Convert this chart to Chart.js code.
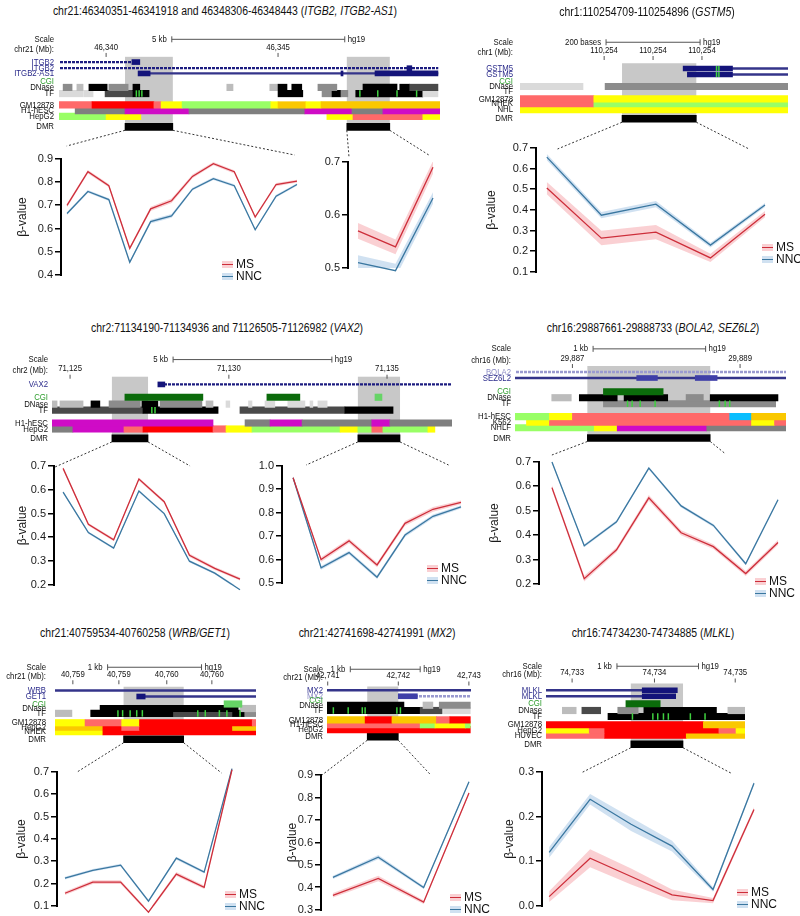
<!DOCTYPE html>
<html>
<head>
<meta charset="utf-8">
<script src="https://cdn.jsdelivr.net/npm/chart.js@4.4.1/dist/chart.umd.min.js"></script>
<style>
  body { margin: 0; background: #fff; }
  #fig { position: relative; width: 800px; height: 916px; overflow: hidden; font-family: "Liberation Sans", Arial, sans-serif; color: #111; }
  #fig canvas { position: absolute; }
  .title { position: absolute; width: 600px; text-align: center; font-size: 12px; white-space: nowrap; transform: scaleX(0.87); pointer-events: none; }
  .legend { position: absolute; font-size: 12px; }
  .legend .row { height: 12px; line-height: 12px; display: flex; align-items: center; }
  .legend .sw { position: relative; display: inline-block; width: 11px; height: 7px; margin-right: 3px; }
  .legend .sw i { position: absolute; left: 0; right: 0; top: 3px; height: 1.5px; }
</style>
</head>
<body>
<div id="fig"></div>
<script>
/**
 * Données lues sur la figure
 * positions des pistes : kb depuis le bord gauche de la fenêtre (GSTM5 : pb)
 */

// ---- ITGB2 / ITGB2-AS1 ----
const itgb2AxisPos = [1.37, 6.37];
const itgb2AxisLabels = ["46,340", "46,345"];
const itgb2ScaleBar = [3.28, 8.31];
const itgb2Dmr = [[1.92, 3.31], [8.37, 9.62]];
const itgb2Gene1 = [[0, 2.12, "p"], [2.12, 2.35, "N"]];
const itgb2Gene2 = [[0, 11.02, "p"], [10.12, 10.26, "N"]];
const itgb2As1 = [[2.65, 11.02, "n"], [2.30, 2.65, "N"], [8.20, 8.26, "N"], [9.19, 11.02, "N"]];
const itgb2Dnase = [[0.12, 0.38, "g"], [0.52, 0.70, "l"], [0.87, 1.40, "k"], [1.45, 2.01, "g"], [2.15, 2.35, "k"], [4.88, 5.06, "l"], [6.13, 6.37, "l"], [6.37, 6.63, "k"], [6.77, 7.06, "k"], [7.53, 8.08, "g"], [8.84, 9.83, "k"], [9.91, 10.20, "k"], [10.20, 11.02, "d"]];
const itgb2Tf = [[0, 0.70, "w"], [0.72, 0.99, "w"], [1.34, 2.15, "d"], [2.15, 2.62, "k"], [6.37, 7.09, "k"], [7.65, 7.94, "g"], [7.94, 8.20, "k"], [8.20, 8.40, "g"], [8.63, 10.58, "k"], [10.58, 11.02, "w"]];
const itgb2TfMarks = [2.25, 2.33, 2.41, 8.75, 9.27, 9.83, 10.4];
const itgb2Gm = [[0, 0.96, "S"], [0.96, 2.76, "R"], [2.76, 2.97, "S"], [2.97, 3.58, "Y"], [3.58, 6.16, "G"], [6.16, 6.37, "Y"], [6.37, 7.18, "O"], [7.18, 7.62, "Y"], [7.62, 11.08, "O"]];
const itgb2H1 = [[0.47, 1.92, "A"], [1.92, 3.78, "M"], [3.78, 7.15, "A"], [7.15, 8.52, "M"], [8.52, 9.42, "A"], [9.42, 11.08, "M"]];
const itgb2Hepg2 = [[0, 1.37, "G"], [1.37, 2.38, "Y"], [7.79, 8.55, "Y"], [8.55, 10.58, "S"], [10.58, 11.08, "Y"]];

const itgb2aTicks = [0.4, 0.5, 0.6, 0.7, 0.8, 0.9];
const itgb2aMs = [0.70, 0.845, 0.785, 0.515, 0.685, 0.72, 0.825, 0.88, 0.845, 0.65, 0.79, 0.805];
const itgb2aNnc = [0.665, 0.76, 0.725, 0.455, 0.63, 0.655, 0.77, 0.815, 0.785, 0.595, 0.74, 0.79];
const itgb2aMsErr = [0.008, 0.008, 0.007, 0.007, 0.009, 0.010, 0.008, 0.007, 0.007, 0.007, 0.007, 0.006];
const itgb2aNncErr = [0.006, 0.006, 0.006, 0.005, 0.008, 0.008, 0.006, 0.006, 0.006, 0.005, 0.006, 0.005];
const itgb2bTicks = [0.5, 0.6, 0.7];
const itgb2bMs = [0.57, 0.54, 0.69];
const itgb2bNnc = [0.51, 0.495, 0.632];
const itgb2bMsErr = [0.015, 0.014, 0.012];
const itgb2bNncErr = [0.014, 0.013, 0.011];

// ---- GSTM5 (pb) ----
const gstm5AxisPos = [179, 283, 387];
const gstm5AxisLabels = ["110,254", "110,254", "110,254"];
const gstm5ScaleBar = [183, 383];
const gstm5Dmr = [[217, 375]];
const gstm5Gene1 = [[452, 570, "n"], [347, 452, "N"]];
const gstm5Gene2 = [[452, 570, "n"], [356, 452, "N"]];
const gstm5ExonMarks = [418, 423];
const gstm5Dnase = [[0, 134, "w"], [181, 570, "g"]];
const gstm5Gm = [[0, 157, "S"], [157, 570, "Y"]];
const gstm5Nhek = [[0, 157, "S"], [157, 570, "G"]];
const gstm5Nhl = [[0, 570, "Y"]];

const gstm5YTicks = [0.1, 0.2, 0.3, 0.4, 0.5, 0.6, 0.7];
const gstm5Ms = [0.506, 0.264, 0.293, 0.168, 0.38];
const gstm5Nnc = [0.656, 0.375, 0.428, 0.23, 0.424];
const gstm5MsErr = [0.03, 0.035, 0.035, 0.02, 0.015];
const gstm5NncErr = [0.015, 0.015, 0.015, 0.012, 0.01];

// ---- VAX2 ----
const vax2AxisPos = [0.57, 5.58, 10.57];
const vax2AxisLabels = ["71,125", "71,130", "71,135"];
const vax2ScaleBar = [3.82, 8.83];
const vax2Dmr = [[1.89, 3.03], [9.65, 10.98]];
const vax2Gene = [[3.56, 12.62, "p"], [3.34, 3.56, "N"]];
const vax2Cgi = [[2.30, 4.76, "C"], [6.78, 7.82, "C"], [10.19, 10.41, "c"]];
const vax2Dnase = [[0, 0.16, "l"], [0.25, 0.98, "l"], [1.23, 1.51, "k"], [1.80, 2.78, "g"], [2.84, 3.34, "k"], [3.41, 4.73, "g"], [4.86, 5.08, "l"], [5.49, 5.61, "w"], [6.20, 6.31, "w"], [6.72, 7.03, "w"], [7.44, 7.98, "w"], [8.14, 8.23, "w"], [8.39, 8.68, "w"]];
const vax2Tf = [[0, 2.87, "d"], [2.87, 5.24, "k"], [5.93, 9.24, "d"], [9.24, 10.76, "k"]];
const vax2TfMarks = [3.15, 3.25];
const vax2H1 = [[0, 5.08, "M"], [6.09, 6.88, "A"], [6.88, 7.89, "M"], [7.89, 10.09, "A"], [10.09, 10.66, "M"], [10.66, 12.62, "A"]];
const vax2Hepg2 = [[0, 0.66, "A"], [0.66, 2.27, "M"], [2.27, 2.87, "S"], [2.87, 5.08, "R"], [5.08, 5.49, "S"], [5.49, 6.31, "Y"], [6.31, 9.09, "G"], [9.09, 9.65, "Y"], [9.65, 10.09, "G"], [10.09, 10.44, "S"], [10.44, 11.86, "G"], [11.86, 12.08, "Y"]];

const vax2aTicks = [0.2, 0.3, 0.4, 0.5, 0.6, 0.7];
const vax2aMs = [0.69, 0.455, 0.39, 0.645, 0.55, 0.325, 0.27, 0.225];
const vax2aNnc = [0.59, 0.42, 0.355, 0.595, 0.50, 0.30, 0.25, 0.18];
const vax2aMsErr = [0.006, 0.006, 0.006, 0.007, 0.006, 0.007, 0.007, 0.006];
const vax2aNncErr = [0.005, 0.005, 0.005, 0.005, 0.005, 0.005, 0.005, 0.005];
const vax2bTicks = [0.5, 0.6, 0.7, 0.8, 0.9, 1.0];
const vax2bMs = [0.95, 0.60, 0.68, 0.577, 0.755, 0.815, 0.845];
const vax2bNnc = [0.95, 0.565, 0.63, 0.525, 0.705, 0.785, 0.825];
const vax2bMsErr = [0.006, 0.010, 0.010, 0.010, 0.010, 0.010, 0.008];
const vax2bNncErr = [0.005, 0.008, 0.008, 0.008, 0.008, 0.008, 0.007];

// ---- BOLA2 / SEZ6L2 ----
const bola2AxisPos = [0.50, 1.96];
const bola2AxisLabels = ["29,887", "29,889"];
const bola2ScaleBar = [0.68, 1.66];
const bola2Dmr = [[0.63, 1.70]];
const bola2Gene = [[0, 2.36, "q"]];
const sez6l2Gene = [[0, 2.36, "n"], [1.06, 1.24, "L"], [1.57, 1.76, "L"]];
const bola2Cgi = [[0.77, 1.29, "C"]];
const bola2Dnase = [[0.32, 0.49, "l"], [0.56, 0.89, "k"], [0.95, 1.33, "k"], [1.49, 1.64, "g"], [1.70, 2.29, "k"]];
const bola2Tf = [[0.77, 2.27, "g"]];
const bola2TfMarks = [0.98, 1.02, 1.09, 1.22, 1.78, 1.83, 1.87];
const bola2H1 = [[0, 0.30, "G"], [0.30, 0.50, "Y"], [0.50, 1.87, "S"], [1.87, 2.06, "B"], [2.06, 2.36, "O"]];
const bola2K562 = [[0.10, 0.30, "Y"], [0.30, 2.06, "S"], [2.06, 2.26, "Y"], [2.26, 2.36, "S"]];
const bola2Nhlf = [[0, 0.69, "G"], [0.69, 0.89, "Y"], [0.89, 1.67, "M"], [1.67, 2.36, "A"]];

const bola2YTicks = [0.2, 0.3, 0.4, 0.5, 0.6, 0.7];
const bola2Ms = [0.595, 0.222, 0.34, 0.553, 0.41, 0.353, 0.243, 0.37];
const bola2Nnc = [0.70, 0.357, 0.455, 0.675, 0.52, 0.44, 0.283, 0.545];
const bola2MsErr = [0.01, 0.012, 0.01, 0.012, 0.01, 0.01, 0.01, 0.01];
const bola2NncErr = [0.005, 0.006, 0.006, 0.006, 0.006, 0.006, 0.006, 0.005];

// ---- WRB / GET1 ----
const wrbAxisPos = [0.19, 0.68, 1.19, 1.67];
const wrbAxisLabels = ["40,759", "40,759", "40,760", "40,760"];
const wrbScaleBar = [0.56, 1.56];
const wrbDmr = [[0.73, 1.37]];
const wrbGene = [[0, 2.14, "n"]];
const get1Gene = [[0.96, 2.14, "n"], [0.87, 0.96, "N"]];
const wrbCgi = [[1.80, 1.99, "c"]];
const wrbDnase = [[0.48, 1.95, "k"], [1.97, 2.14, "l"]];
const wrbTf = [[0, 0.18, "l"], [0.38, 1.26, "k"], [1.27, 1.89, "d"], [1.89, 2.02, "k"], [2.02, 2.14, "g"]];
const wrbTfMarks = [0.67, 0.72, 0.80, 0.87, 0.93, 1.52, 1.60, 1.75, 1.83, 1.97];
const wrbGm = [[0, 0.32, "Y"], [0.32, 0.71, "S"], [0.71, 0.90, "Y"], [0.90, 2.10, "R"], [2.10, 2.14, "S"]];
const wrbHepg2 = [[0, 0.51, "O"], [0.51, 0.71, "R"], [0.71, 0.90, "S"], [0.90, 1.89, "R"], [1.89, 2.14, "O"]];
const wrbNhek = [[0, 0.51, "Y"], [0.51, 2.14, "R"]];

const wrbYTicks = [0.1, 0.2, 0.3, 0.4, 0.5, 0.6, 0.7];
const wrbMs = [0.157, 0.207, 0.207, 0.072, 0.243, 0.184, 0.71];
const wrbNnc = [0.225, 0.26, 0.283, 0.122, 0.314, 0.252, 0.715];
const wrbMsErr = [0.008, 0.008, 0.008, 0.007, 0.009, 0.008, 0.006];
const wrbNncErr = [0.006, 0.006, 0.006, 0.006, 0.007, 0.006, 0.005];

// ---- MX2 ----
const mx2AxisPos = [0.01, 1.01, 2.01];
const mx2AxisLabels = ["42,741", "42,742", "42,743"];
const mx2ScaleBar = [0.33, 1.32];
const mx2Dmr = [[0.57, 1.01]];
const mx2Gene1 = [[0, 2.04, "n"]];
const mx2Gene2 = [[1.28, 2.04, "q"], [1.01, 1.28, "L"]];
const mx2Dnase = [[0, 1.09, "k"], [1.36, 1.50, "l"], [1.59, 2.03, "g"]];
const mx2Tf = [[0, 1.32, "k"], [1.32, 1.63, "d"], [1.65, 2.03, "w"]];
const mx2TfMarks = [0.09, 0.30, 0.50, 0.54, 0.99, 1.04];
const mx2Gm = [[0, 0.54, "O"], [0.54, 0.92, "R"], [0.92, 1.55, "O"], [1.55, 1.74, "S"], [1.74, 2.03, "R"]];
const mx2H1 = [[0, 1.32, "S"], [1.32, 1.53, "G"], [1.53, 1.96, "Y"], [1.96, 2.03, "G"]];
const mx2Hepg2 = [[0, 2.03, "R"]];

const mx2YTicks = [0.3, 0.4, 0.5, 0.6, 0.7, 0.8, 0.9];
const mx2Ms = [0.365, 0.44, 0.335, 0.82];
const mx2Nnc = [0.445, 0.535, 0.40, 0.87];
const mx2MsErr = [0.01, 0.012, 0.008, 0.006];
const mx2NncErr = [0.007, 0.009, 0.007, 0.005];

// ---- MLKL ----
const mlklAxisPos = [0.32, 1.33, 2.32];
const mlklAxisLabels = ["74,733", "74,734", "74,735"];
const mlklScaleBar = [0.87, 1.87];
const mlklDmr = [[1.04, 1.68]];
const mlklGene1 = [[0, 1.18, "n"], [1.18, 1.61, "N"]];
const mlklGene2 = [[0, 1.18, "n"], [1.18, 1.59, "N"]];
const mlklCgi = [[0.98, 1.40, "C"]];
const mlklDnase = [[0.20, 0.37, "l"], [0.44, 0.67, "d"], [0.88, 1.13, "g"], [1.20, 2.09, "k"], [2.23, 2.44, "l"]];
const mlklTf = [[0.76, 2.44, "k"]];
const mlklTfMarks = [1.06, 1.31, 1.37, 1.44, 1.50, 1.77, 1.95];
const mlklGm = [[0, 1.93, "R"], [1.93, 2.44, "O"]];
const mlklHepg2 = [[0, 0.53, "Y"], [0.53, 0.72, "S"], [0.72, 2.12, "R"], [2.12, 2.33, "S"], [2.33, 2.44, "Y"]];
const mlklHuvec = [[0, 0.72, "S"], [0.72, 1.72, "R"], [1.72, 2.44, "O"]];

const mlklYTicks = [0.0, 0.1, 0.2, 0.3];
const mlklMs = [0.021, 0.107, 0.066, 0.025, 0.012, 0.216];
const mlklNnc = [0.12, 0.239, 0.183, 0.134, 0.037, 0.275];
const mlklMsErr = [0.012, 0.02, 0.018, 0.012, 0.006, 0.005];
const mlklNncErr = [0.012, 0.012, 0.015, 0.012, 0.005, 0.004];

// couleurs
const FONT = '"Liberation Sans", Arial, sans-serif';
const PAL = {
  N: "#14147a", L: "#3f3fa8", n: "#34348a",
  k: "#000000", d: "#4a4a4a", g: "#8c8c8c", l: "#bcbcbc", w: "#dadada",
  C: "#0b6b0b", c: "#66d466",
  R: "#ff0000", S: "#ff6969", M: "#cf0bc6", O: "#fac800", Y: "#ffff04", G: "#99ff66", A: "#7f7f7f", B: "#0abefe",
};
const NAVY = "#2a2a8a", LIGHTNAVY = "#8a8ac4", GREEN = "#2f9e2f";
const MS_LINE = "#cd2e3a", MS_BAND = "rgba(240,120,128,0.35)";
const NNC_LINE = "#3a77a0", NNC_BAND = "rgba(120,170,215,0.35)";
const INK = "#000000";

// mise en page des 7 panneaux
const panels = [
  {
    title: "chr21:46340351-46341918 and 46348306-46348443 (<i>ITGB2, ITGB2-AS1</i>)", titleX: 225, titleY: 11,
    box: [0, 18, 445, 145], win: [59, 440], span: 11.08, labelRight: 54,
    scale: { y: 32, text: "5 kb", bar: itgb2ScaleBar },
    chr: { y: 43, label: "chr21 (Mb):", pos: itgb2AxisPos, labels: itgb2AxisLabels },
    shade: [52, 133], dmr: { y: 132, ranges: itgb2Dmr },
    rows: [
      { name: "ITGB2", y: 58, c: NAVY, segs: itgb2Gene1, h: 5 },
      { name: "ITGB2", y: 65, c: NAVY, segs: itgb2Gene2, h: 5 },
      { name: "ITGB2-AS1", y: 71, c: NAVY, segs: itgb2As1, h: 5 },
      { name: "CGI", y: 80, c: GREEN, segs: [] },
      { name: "DNase", y: 87, segs: itgb2Dnase },
      { name: "TF", y: 94, segs: itgb2Tf, marks: itgb2TfMarks },
      { name: "GM12878", y: 107, segs: itgb2Gm },
      { name: "H1-hESC", y: 113.5, segs: itgb2H1 },
      { name: "HepG2", y: 120, segs: itgb2Hepg2 },
    ],
    charts: [
      { axisX: 62, top: 159, bottom: 275, lastX: 297, W: 46, xmin: -0.24, ticks: itgb2aTicks, ms: itgb2aMs, nnc: itgb2aNnc, msErr: itgb2aMsErr, nncErr: itgb2aNncErr, title: true, legend: [222, 264], link: [0.02, 13, 0.99, 4] },
      { axisX: 349, top: 162, bottom: 268, lastX: 433, W: 30, xmin: -0.24, ticks: itgb2bTicks, ms: itgb2bMs, nnc: itgb2bNnc, msErr: itgb2bMsErr, nncErr: itgb2bNncErr, title: false, legend: null, link: [0, 5, 0.95, 7] },
    ],
  },
  {
    title: "chr1:110254709-110254896 (<i>GSTM5</i>)", titleX: 647, titleY: 12,
    box: [445, 16, 355, 138], win: [520, 788], span: 570, labelRight: 513,
    scale: { y: 28, text: "200 bases", bar: gstm5ScaleBar },
    chr: { y: 41, label: "chr1 (Mb):", pos: gstm5AxisPos, labels: gstm5AxisLabels },
    shade: [56, 128], dmr: { y: 130, ranges: gstm5Dmr },
    rows: [
      { name: "GSTM5", y: 63, c: NAVY, segs: gstm5Gene1, h: 5, marks: gstm5ExonMarks },
      { name: "GSTM5", y: 71, c: NAVY, segs: gstm5Gene2, h: 5, marks: gstm5ExonMarks },
      { name: "CGI", y: 80, c: GREEN, segs: [] },
      { name: "DNase", y: 87, segs: gstm5Dnase },
      { name: "TF", y: 94, segs: [] },
      { name: "GM12878", y: 103.5, segs: gstm5Gm },
      { name: "NHEK", y: 110, segs: gstm5Nhek },
      { name: "NHL", y: 118, segs: gstm5Nhl },
    ],
    charts: [
      { axisX: 537, top: 148, bottom: 272, lastX: 765, W: 52, xmin: -0.18, ticks: gstm5YTicks, ms: gstm5Ms, nnc: gstm5Nnc, msErr: gstm5MsErr, nncErr: gstm5NncErr, title: true, legend: [762, 247], link: [0.09, -1, 0.93, -1] },
    ],
  },
  {
    title: "chr2:71134190-71134936 and 71126505-71126982 (<i>VAX2</i>)", titleX: 227, titleY: 328,
    box: [0, 340, 465, 130], win: [52, 452], span: 12.62, labelRight: 48,
    scale: { y: 352, text: "5 kb", bar: vax2ScaleBar },
    chr: { y: 365, label: "chr2 (Mb):", pos: vax2AxisPos, labels: vax2AxisLabels },
    shade: [372, 443], dmr: { y: 444, ranges: vax2Dmr },
    rows: [
      { name: "VAX2", y: 381, c: NAVY, segs: vax2Gene, h: 5 },
      { name: "CGI", y: 396, c: GREEN, segs: vax2Cgi },
      { name: "DNase", y: 404, segs: vax2Dnase },
      { name: "TF", y: 411, segs: vax2Tf, marks: vax2TfMarks },
      { name: "H1-hESC", y: 426, segs: vax2H1 },
      { name: "HepG2", y: 433, segs: vax2Hepg2 },
    ],
    charts: [
      { axisX: 55, top: 466, bottom: 585, lastX: 240, W: 39, xmin: -0.32, ticks: vax2aTicks, ms: vax2aMs, nnc: vax2aNnc, msErr: vax2aMsErr, nncErr: vax2aNncErr, title: true, legend: null, link: [0, -1, 0.73, 0] },
      { axisX: 283, top: 466, bottom: 583, lastX: 461, W: 30, xmin: -0.36, ticks: vax2bTicks, ms: vax2bMs, nnc: vax2bNnc, msErr: vax2bMsErr, nncErr: vax2bNncErr, title: false, legend: [427, 568], link: [0.13, 1, 0.93, 1] },
    ],
  },
  {
    title: "chr16:29887661-29888733 (<i>BOLA2, SEZ6L2</i>)", titleX: 653, titleY: 328,
    box: [460, 330, 340, 132], win: [515, 786], span: 2.36, labelRight: 511,
    scale: { y: 341, text: "1 kb", bar: bola2ScaleBar },
    chr: { y: 354, label: "chr16 (Mb):", pos: bola2AxisPos, labels: bola2AxisLabels },
    shade: [361, 441], dmr: { y: 445, ranges: bola2Dmr },
    rows: [
      { name: "BOLA2", y: 368, c: LIGHTNAVY, segs: bola2Gene, h: 5 },
      { name: "SEZ6L2", y: 375, c: NAVY, segs: sez6l2Gene, h: 5 },
      { name: "CGI", y: 391, c: GREEN, segs: bola2Cgi },
      { name: "DNase", y: 398, segs: bola2Dnase },
      { name: "TF", y: 405, segs: bola2Tf, marks: bola2TfMarks },
      { name: "H1-hESC", y: 420, segs: bola2H1 },
      { name: "K562", y: 426.5, segs: bola2K562 },
      { name: "NHLF", y: 433, segs: bola2Nhlf },
    ],
    charts: [
      { axisX: 540, top: 462, bottom: 584, lastX: 778, W: 52, xmin: -0.37, ticks: bola2YTicks, ms: bola2Ms, nnc: bola2Nnc, msErr: bola2MsErr, nncErr: bola2NncErr, title: true, legend: [755, 581], link: [0.05, 7, 0.78, 8] },
    ],
  },
  {
    title: "chr21:40759534-40760258 (<i>WRB/GET1</i>)", titleX: 135, titleY: 633,
    box: [0, 642, 275, 136], win: [55, 256], span: 2.14, labelRight: 46,
    scale: { y: 653, text: "1 kb", bar: wrbScaleBar },
    chr: { y: 665, label: "chr21 (Mb):", pos: wrbAxisPos, labels: wrbAxisLabels },
    shade: [679, 750], dmr: { y: 749, ranges: wrbDmr },
    rows: [
      { name: "WRB", y: 684, c: NAVY, segs: wrbGene, h: 5 },
      { name: "GET1", y: 692, c: NAVY, segs: get1Gene, h: 5 },
      { name: "CGI", y: 702, c: GREEN, segs: wrbCgi },
      { name: "DNase", y: 708, segs: wrbDnase },
      { name: "TF", y: 714.5, segs: wrbTf, marks: wrbTfMarks },
      { name: "GM12878", y: 727, segs: wrbGm },
      { name: "HepG2", y: 733, segs: wrbHepg2 },
      { name: "NHEK", y: 739, segs: wrbNhek },
    ],
    charts: [
      { axisX: 58, top: 772, bottom: 906, lastX: 232, W: 43, xmin: -0.25, ticks: wrbYTicks, ms: wrbMs, nnc: wrbNnc, msErr: wrbMsErr, nncErr: wrbNncErr, title: true, legend: [225, 894], link: [0.11, 0, 0.94, -1] },
    ],
  },
  {
    title: "chr21:42741698-42741991 (<i>MX2</i>)", titleX: 377, titleY: 633,
    box: [275, 644, 215, 136], win: [327, 471], span: 2.04, labelRight: 323,
    scale: { y: 655, text: "1 kb", bar: mx2ScaleBar },
    chr: { y: 666, label: "chr21 (Mb):", pos: mx2AxisPos, labels: mx2AxisLabels },
    shade: [678, 745], dmr: { y: 745, ranges: mx2Dmr },
    rows: [
      { name: "MX2", y: 683, c: NAVY, segs: mx2Gene1, h: 5 },
      { name: "MX2", y: 691, c: LIGHTNAVY, segs: mx2Gene2, h: 5 },
      { name: "CGI", y: 697, c: GREEN, segs: [] },
      { name: "DNase", y: 703, segs: mx2Dnase },
      { name: "TF", y: 710, segs: mx2Tf, marks: mx2TfMarks },
      { name: "GM12878", y: 722.5, segs: mx2Gm },
      { name: "H1-hESC", y: 729, segs: mx2H1 },
      { name: "HepG2", y: 735.5, segs: mx2Hepg2 },
    ],
    charts: [
      { axisX: 322, top: 775, bottom: 910, lastX: 469, W: 36, xmin: -0.24, ticks: mx2YTicks, ms: mx2Ms, nnc: mx2Nnc, msErr: mx2MsErr, nncErr: mx2NncErr, title: true, legend: [450, 897], link: [0, 0, 0.74, 0] },
    ],
  },
  {
    title: "chr16:74734230-74734885 (<i>MLKL</i>)", titleX: 653, titleY: 633,
    box: [490, 640, 310, 138], win: [546, 745], span: 2.44, labelRight: 542,
    scale: { y: 652, text: "1 kb", bar: mlklScaleBar },
    chr: { y: 663, label: "chr16 (Mb):", pos: mlklAxisPos, labels: mlklAxisLabels },
    shade: [675, 755], dmr: { y: 756, ranges: mlklDmr },
    rows: [
      { name: "MLKL", y: 684, c: NAVY, segs: mlklGene1, h: 5 },
      { name: "MLKL", y: 692, c: NAVY, segs: mlklGene2, h: 5 },
      { name: "CGI", y: 702, c: GREEN, segs: mlklCgi },
      { name: "DNase", y: 711, segs: mlklDnase },
      { name: "TF", y: 719, segs: mlklTf, marks: mlklTfMarks },
      { name: "GM12878", y: 730, segs: mlklGm },
      { name: "HepG2", y: 737, segs: mlklHepg2 },
      { name: "HUVEC", y: 744, segs: mlklHuvec },
    ],
    charts: [
      { axisX: 543, top: 772, bottom: 906, lastX: 754, W: 40, xmin: -0.15, ticks: mlklYTicks, ms: mlklMs, nnc: mlklNnc, msErr: mlklMsErr, nncErr: mlklNncErr, title: true, legend: [737, 892], link: [0.18, -1, 0.89, -1] },
    ],
  },
];

const fig = document.getElementById("fig");

function addCanvas(x, y, w, h) {
  const cv = document.createElement("canvas");
  cv.width = w;
  cv.height = h;
  cv.style.left = x + "px";
  cv.style.top = y + "px";
  cv.style.width = w + "px";
  cv.style.height = h + "px";
  fig.appendChild(cv);
  return cv;
}

// texte "écrasé" comme dans les captures du navigateur UCSC
function squeezed(ctx, txt, x, y, align, color) {
  ctx.save();
  ctx.translate(x, y);
  ctx.scale(0.82, 1);
  ctx.font = "9.5px " + FONT;
  ctx.fillStyle = color || "#111";
  ctx.textAlign = align;
  ctx.textBaseline = "middle";
  ctx.fillText(txt, 0, 0);
  ctx.restore();
}

function hatch(ctx, color) {
  const c = document.createElement("canvas");
  c.width = 4;
  c.height = 4;
  const g = c.getContext("2d");
  g.fillStyle = color;
  g.fillRect(0, 0, 3, 4);
  return ctx.createPattern(c, "repeat");
}

function lineChart(c) {
  const n = c.ms.length;
  const yMin = c.ticks[0];
  const yMax = c.ticks[c.ticks.length - 1];
  c.left = c.axisX - c.W;
  c.topPx = c.top - 8;
  const cv = addCanvas(c.left, c.topPx, c.lastX + 6 - c.left, c.bottom + 8 - c.topPx);
  const pts = (vals, err, sign) => vals.map((v, i) => ({ x: i, y: err ? v + sign * err[i] : v }));
  const clear = "rgba(0,0,0,0)";
  const band = (vals, err, sign, fill, color) => ({ data: pts(vals, err, sign), borderColor: clear, borderWidth: 0, pointRadius: 0, fill, backgroundColor: color, clip: false });

  // axe y : trait, graduations, valeurs et titre, placés avec l'échelle y
  const yAxis = {
    id: "yAxis",
    afterDraw(chart) {
      const y = chart.scales.y;
      const area = chart.chartArea;
      const g = chart.ctx;
      const x0 = Math.round(area.left);
      const yTop = Math.round(y.getPixelForValue(yMax));
      const yBot = Math.round(y.getPixelForValue(yMin));
      g.save();
      g.fillStyle = INK;
      g.fillRect(x0 - 2, yTop - 1, 2, yBot - yTop + 2);
      c.ticks.forEach((v) => g.fillRect(x0 - 7, Math.round(y.getPixelForValue(v)) - 1, 5, 1.5));
      g.fillStyle = "#1a1a1a";
      g.font = "11px " + FONT;
      g.textAlign = "right";
      g.textBaseline = "middle";
      c.ticks.forEach((v) => g.fillText(v.toFixed(1), x0 - 9, y.getPixelForValue(v)));
      if (c.title) {
        g.translate(x0 - c.W + 7, (area.top + area.bottom) / 2);
        g.rotate(-Math.PI / 2);
        g.font = "12px " + FONT;
        g.textAlign = "center";
        g.fillText("β-value", 0, 0);
      }
      g.restore();
    },
  };

  c.chart = new Chart(cv, {
    type: "line",
    data: {
      datasets: [
        { data: pts(c.ms), borderColor: MS_LINE, borderWidth: 1.3, pointRadius: 0, fill: false, clip: false },
        { data: pts(c.nnc), borderColor: NNC_LINE, borderWidth: 1.3, pointRadius: 0, fill: false, clip: false },
        band(c.ms, c.msErr, 1, "+1", MS_BAND),
        band(c.ms, c.msErr, -1, false, clear),
        band(c.nnc, c.nncErr, 1, "+1", NNC_BAND),
        band(c.nnc, c.nncErr, -1, false, clear),
      ],
    },
    options: {
      responsive: false,
      animation: false,
      events: [],
      layout: { padding: { left: c.W, right: 6, top: 8, bottom: 8 } },
      plugins: { legend: { display: false }, tooltip: { enabled: false } },
      scales: {
        x: { type: "linear", min: c.xmin, max: n - 1, display: false },
        y: { type: "linear", min: yMin, max: yMax, display: false },
      },
    },
    plugins: [yAxis],
  });

  if (c.legend) {
    const d = document.createElement("div");
    d.className = "legend";
    d.style.left = c.legend[0] + "px";
    d.style.top = c.legend[1] - 6 + "px";
    d.innerHTML = [["MS", MS_LINE, MS_BAND], ["NNC", NNC_LINE, NNC_BAND]]
      .map(([t, l, b]) => `<div class="row"><span class="sw" style="background:${b}"><i style="background:${l}"></i></span>${t}</div>`)
      .join("");
    fig.appendChild(d);
  }
}

function trackChart(p) {
  const [left, top, width, height] = p.box;
  const cv = addCanvas(left, top, width, height);
  const ctx = cv.getContext("2d");
  const pats = { p: hatch(ctx, "#1c1c80"), q: hatch(ctx, "#9a9ad0") };
  const color = (k) => pats[k] || PAL[k];
  const thinKeys = "npq";

  const rows = p.rows.concat([{ name: "DMR", y: p.dmr.y, h: 7, segs: p.dmr.ranges.map((r) => [r[0], r[1], "k"]) }]);
  const datasets = [];
  rows.forEach((r) => {
    const thin = r.segs.filter((s) => thinKeys.includes(s[2]));
    const thick = r.segs.filter((s) => !thinKeys.includes(s[2]));
    [[thin, 1.6, 1], [thick, r.h || 6.5, 0]].forEach(([segs, h, order]) => {
      if (!segs.length) return;
      datasets.push({
        data: segs.map((s) => ({ x: [s[0], s[1]], y: r.y })),
        backgroundColor: segs.map((s) => color(s[2])),
        barThickness: h,
        grouped: false,
        borderWidth: 0,
        order,
      });
    });
  });

  const browser = {
    id: "browser",
    beforeDatasetsDraw(chart) {
      const { x, y } = chart.scales;
      const g = chart.ctx;
      g.save();
      g.fillStyle = "#c8c8c8";
      p.dmr.ranges.forEach((r) => {
        const x0 = x.getPixelForValue(r[0]);
        g.fillRect(x0, y.getPixelForValue(p.shade[0]), x.getPixelForValue(r[1]) - x0, y.getPixelForValue(p.shade[1]) - y.getPixelForValue(p.shade[0]));
      });
      g.restore();
    },
    afterDatasetsDraw(chart) {
      const { x, y } = chart.scales;
      const g = chart.ctx;
      const lx = p.labelRight - left;

      // marques vertes (motifs TF, exons)
      g.save();
      g.strokeStyle = "#3fd13f";
      g.lineWidth = 1.5;
      rows.forEach((r) => {
        (r.marks || []).forEach((m) => {
          const px = x.getPixelForValue(m);
          const py = y.getPixelForValue(r.y);
          const h = (r.h || 6.5) / 2;
          g.beginPath();
          g.moveTo(px, py - h);
          g.lineTo(px, py + h);
          g.stroke();
        });
      });
      g.restore();

      // noms des pistes
      rows.forEach((r) => squeezed(g, r.name, lx, y.getPixelForValue(r.y), "right", r.c));

      // barre d'échelle
      const sy = y.getPixelForValue(p.scale.y);
      const s0 = x.getPixelForValue(p.scale.bar[0]);
      const s1 = x.getPixelForValue(p.scale.bar[1]);
      squeezed(g, "Scale", lx, sy, "right");
      squeezed(g, p.scale.text, s0 - 5, sy, "right");
      squeezed(g, "hg19", s1 + 3, sy, "left");
      g.save();
      g.fillStyle = "#555";
      g.fillRect(s0, sy - 0.5, s1 - s0, 1);
      g.fillRect(s0 - 0.5, sy - 3, 1, 6);
      g.fillRect(s1 - 0.5, sy - 3, 1, 6);
      g.restore();

      // coordonnées chromosomiques
      const cy = y.getPixelForValue(p.chr.y);
      squeezed(g, p.chr.label, lx, cy, "right");
      g.save();
      g.fillStyle = "#555";
      p.chr.pos.forEach((v, i) => {
        const px = x.getPixelForValue(v);
        squeezed(g, p.chr.labels[i], px, cy - 2, "center");
        g.fillRect(px - 0.5, cy + 4, 1, 4);
      });
      g.restore();

      // traits pointillés vers les graphes
      g.save();
      g.strokeStyle = "#333";
      g.lineWidth = 1;
      g.setLineDash([2, 2]);
      const dy = y.getPixelForValue(p.dmr.y) + 3.5;
      p.dmr.ranges.forEach((r, i) => {
        const c = p.charts[i];
        const ca = c.chart.chartArea;
        const [fl, dl, fr, dr] = c.link;
        const tx = (f) => c.left + ca.left + f * (ca.right - ca.left) - left;
        const ty = (d) => c.topPx + ca.top - d - top;
        g.beginPath();
        g.moveTo(x.getPixelForValue(r[0]), dy);
        g.lineTo(tx(fl), ty(dl));
        g.moveTo(x.getPixelForValue(r[1]), dy);
        g.lineTo(tx(fr), ty(dr));
        g.stroke();
      });
      g.restore();
    },
  };

  new Chart(cv, {
    type: "bar",
    data: { datasets },
    options: {
      indexAxis: "y",
      responsive: false,
      animation: false,
      events: [],
      layout: { padding: { left: p.win[0] - left, right: left + width - p.win[1], top: 0, bottom: 0 } },
      plugins: { legend: { display: false }, tooltip: { enabled: false } },
      scales: {
        x: { type: "linear", min: 0, max: p.span, display: false },
        y: { type: "linear", min: top, max: top + height, reverse: true, display: false },
      },
    },
    plugins: [browser],
  });
}

panels.forEach((p) => {
  const t = document.createElement("div");
  t.className = "title";
  t.style.left = p.titleX - 300 + "px";
  t.style.top = p.titleY - 7 + "px";
  t.innerHTML = p.title;
  fig.appendChild(t);

  p.charts.forEach(lineChart);
  trackChart(p);
});
</script>
</body>
</html>
